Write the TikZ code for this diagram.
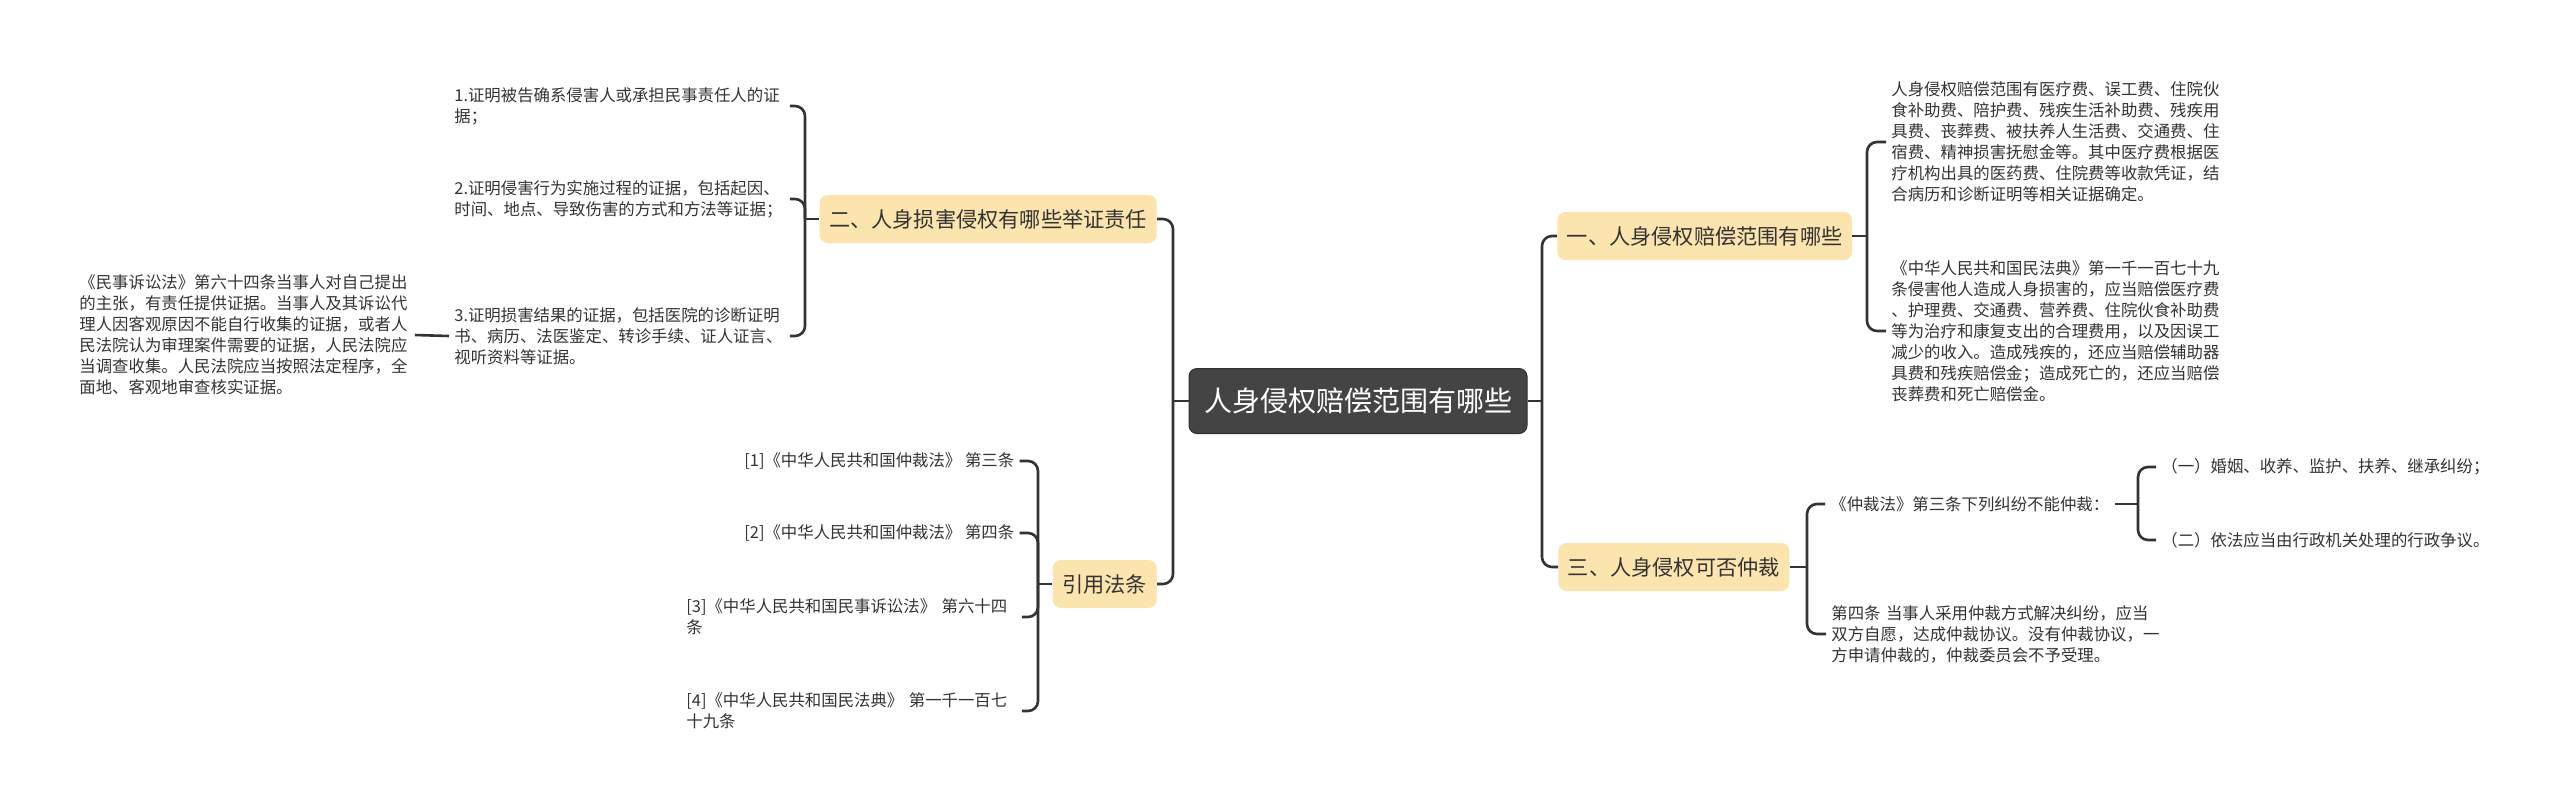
\documentclass[tikz,border=0pt]{standalone}
\usepackage{fontspec}
\setmainfont{Noto Sans CJK SC}
\usepackage{tikz}
\usetikzlibrary{positioning}
\definecolor{cInk}{HTML}{333333}
\definecolor{cRoot}{HTML}{444444}
\definecolor{cTopic}{HTML}{FCE4AF}

\begin{document}
\begin{tikzpicture}[x=0.5pt,y=-0.5pt,
  root/.style={rounded corners=4pt,fill=cRoot,draw=cRoot!70!black,line width=0.5pt,
               text=white,font=\fontsize{14pt}{16pt}\selectfont,
               inner xsep=7.5pt,minimum height=32.5pt},
  topic/.style={rounded corners=4pt,fill=cTopic,text=cInk,
                font=\fontsize{10.6pt}{12pt}\selectfont,
                inner xsep=4.75pt,minimum height=24pt},
  leaf/.style={text=cInk,font=\fontsize{8.2pt}{10.5pt}\selectfont,align=left,
               inner xsep=2.5pt,inner ysep=1pt,text width=165pt},
  oneline/.style={text=cInk,font=\fontsize{8.2pt}{10.5pt}\selectfont,
                  inner xsep=2.5pt,inner ysep=1pt},
  wire/.style={draw=cInk,line width=1.3pt,rounded corners=5pt}]

\useasboundingbox (0,0) rectangle (2560,809);

% centre and main topics
\node[root] (root) at (1358,401) {人身侵权赔偿范围有哪些};
\node[topic,anchor=east] (q2) at (1157,219) {二、人身损害侵权有哪些举证责任};
\node[topic,anchor=east] (law) at (1157,584) {引用法条};
\node[topic,anchor=west] (q1) at (1557,236) {一、人身侵权赔偿范围有哪些};
\node[topic,anchor=west] (q3) at (1558,567) {三、人身侵权可否仲裁};

% left: burden of proof
\node[leaf,anchor=west] (p1) at (449,106)
  {1.证明被告确系侵害人或承担民事责任人的证\\据；};
\node[leaf,anchor=west] (p2) at (449,199)
  {2.证明侵害行为实施过程的证据，包括起因、\\时间、地点、导致伤害的方式和方法等证据；};
\node[leaf,anchor=west] (p3) at (449,336)
  {3.证明损害结果的证据，包括医院的诊断证明\\书、病历、法医鉴定、转诊手续、证人证言、\\视听资料等证据。};
\node[leaf,anchor=west] (p3a) at (74,335)
  {《民事诉讼法》第六十四条当事人对自己提出\\的主张，有责任提供证据。当事人及其诉讼代\\理人因客观原因不能自行收集的证据，或者人\\民法院认为审理案件需要的证据，人民法院应\\当调查收集。人民法院应当按照法定程序，全\\面地、客观地审查核实证据。};

% left: cited articles
\node[oneline,anchor=west] (c1) at (739,461) {[1]《中华人民共和国仲裁法》 第三条};
\node[oneline,anchor=west] (c2) at (739,533) {[2]《中华人民共和国仲裁法》 第四条};
\node[leaf,anchor=west] (c3) at (681,617)
  {[3]《中华人民共和国民事诉讼法》 第六十四\\条};
\node[leaf,anchor=west] (c4) at (681,711)
  {[4]《中华人民共和国民法典》 第一千一百七\\十九条};

% right: scope of compensation
\node[leaf,anchor=west] (a1) at (1886,142)
  {人身侵权赔偿范围有医疗费、误工费、住院伙\\食补助费、陪护费、残疾生活补助费、残疾用\\具费、丧葬费、被扶养人生活费、交通费、住\\宿费、精神损害抚慰金等。其中医疗费根据医\\疗机构出具的医药费、住院费等收款凭证，结\\合病历和诊断证明等相关证据确定。};
\node[leaf,anchor=west] (a2) at (1886,331)
  {《中华人民共和国民法典》第一千一百七十九\\条侵害他人造成人身损害的，应当赔偿医疗费\\、护理费、交通费、营养费、住院伙食补助费\\等为治疗和康复支出的合理费用，以及因误工\\减少的收入。造成残疾的，还应当赔偿辅助器\\具费和残疾赔偿金；造成死亡的，还应当赔偿\\丧葬费和死亡赔偿金。};

% right: arbitration
\node[oneline,anchor=west] (r1) at (1825,504) {《仲裁法》第三条下列纠纷不能仲裁：};
\node[oneline,anchor=west] (r11) at (2156,467) {（一）婚姻、收养、监护、扶养、继承纠纷；};
\node[oneline,anchor=west] (r12) at (2156,540) {（二）依法应当由行政机关处理的行政争议。};
\node[leaf,anchor=west] (r2) at (1826,634)
  {第四条 当事人采用仲裁方式解决纠纷，应当\\双方自愿，达成仲裁协议。没有仲裁协议，一\\方申请仲裁的，仲裁委员会不予受理。};

\coordinate (jl) at (1173,401);
\coordinate (jr) at (1542,401);
\coordinate (j2) at (805,219);
\coordinate (jlaw) at (1038,584);
\coordinate (j1) at (1867,236);
\coordinate (j3) at (1807,567);
\coordinate (jr1) at (2138,504);

\draw[wire] (root.west) -- (jl);
\draw[wire] (q2.east) -| (jl) |- (law.east);
\draw[wire] (root.east) -- (jr);
\draw[wire] (q1.west) -| (jr) |- (q3.west);

\draw[wire] (q2.west) -- (j2);
\draw[wire] (p1.east) -| (j2) |- (p3.east);
\draw[wire] (p2.east) -| (j2);
\draw[wire] (p3.west) -- (p3a.east);

\draw[wire] (law.west) -- (jlaw);
\draw[wire] (c1.east) -| (jlaw) |- (c4.east);
\draw[wire] (c2.east) -| (jlaw);
\draw[wire] (c3.east) -| (jlaw);

\draw[wire] (q1.east) -- (j1);
\draw[wire] (a1.west) -| (j1) |- (a2.west);

\draw[wire] (q3.east) -- (j3);
\draw[wire] (r1.west) -| (j3) |- (r2.west);
\draw[wire] (r1.east) -- (jr1);
\draw[wire] (r11.west) -| (jr1) |- (r12.west);
\end{tikzpicture}
\end{document}
